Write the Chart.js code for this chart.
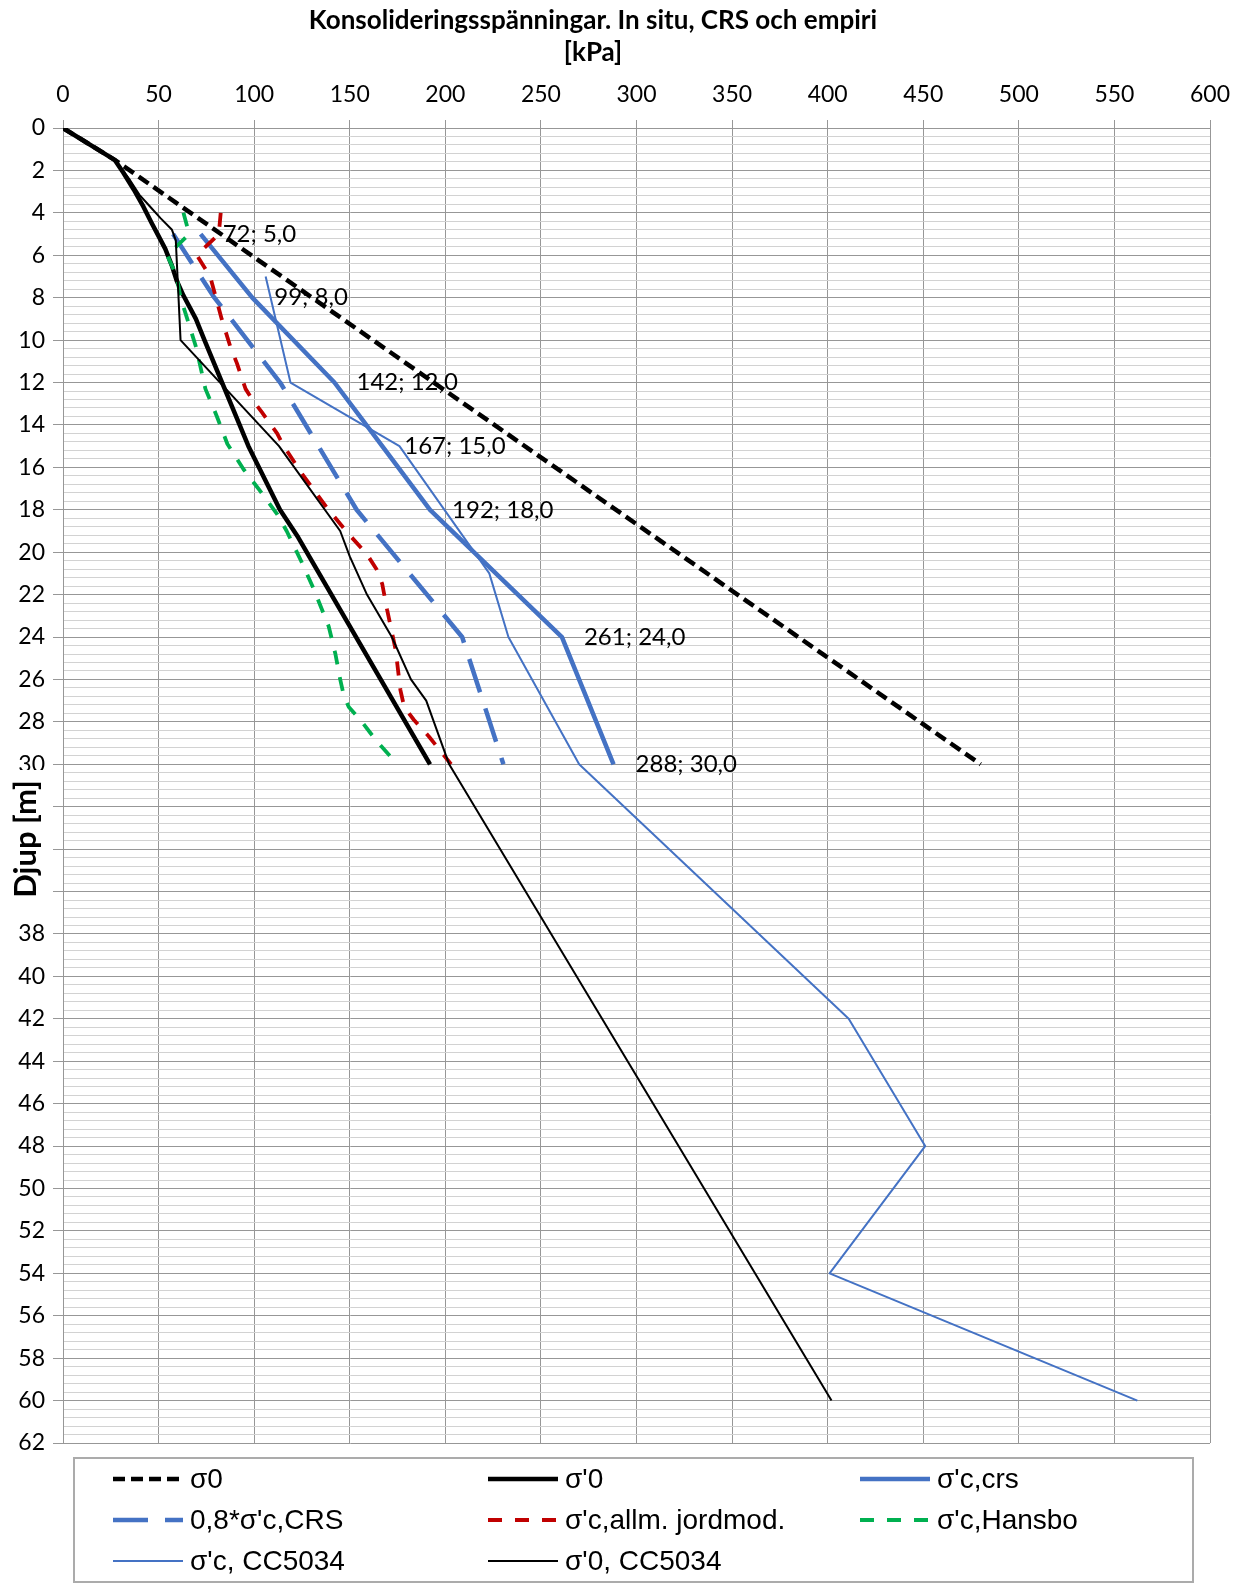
<!DOCTYPE html>
<html>
<head>
<meta charset="utf-8">
<script src="https://cdn.jsdelivr.net/npm/chart.js@4.4.1/dist/chart.umd.min.js"></script>
<style>
  html, body { margin: 0; padding: 0; background: #ffffff; }
  #wrap { width: 1246px; height: 1585px; position: relative; }
</style>
</head>
<body>
<div id="wrap"><canvas id="chart" width="1246" height="1585"></canvas></div>
<script>
// Titles and names
const titleLines = ['Konsolideringsspänningar. In situ, CRS och empiri', '[kPa]'];
const depthTitle = 'Djup [m]';
const seriesNames = ['σ0', "σ'0", "σ'c,crs", "0,8*σ'c,CRS", "σ'c,allm. jordmod.", "σ'c,Hansbo", "σ'c, CC5034", "σ'0, CC5034"];

// Total vertical stress
const sigma0Depth = [0, 1.5, 30];
const sigma0Kpa   = [0, 27, 480];

// Effective vertical stress
const sigmaEffDepth = [0, 1.5, 2.1, 2.9, 3.7, 4.5, 5.1, 5.7, 6.5, 7.2, 7.9, 9, 10, 15, 18, 19.3, 30];
const sigmaEffKpa   = [0, 27, 31.5, 37, 42, 46.5, 50, 53.5, 57, 59.5, 63, 69.5, 74, 97, 113.5, 123, 192];

// Preconsolidation pressure from CRS tests
const crsDepth = [5, 8, 12, 15, 18, 24, 30];
const crsKpa   = [72, 99, 142, 167, 192, 261, 288];

// 0,8 x CRS values
const crs08Depth = [5, 8, 12, 15, 18, 24, 30];
const crs08Kpa   = [57.6, 79.2, 113.6, 133.6, 153.6, 208.8, 230.4];

// Empirical, general soil model
const allmDepth = [4, 5, 6, 7, 9, 10.3, 11.1, 12.3, 12.8, 13.4, 14.4, 15, 16.3, 17.9, 19.1, 20.1, 20.8, 21.5, 22.7, 24.6, 26.5, 27.3, 27.9, 28.7, 30];
const allmKpa   = [82.5, 81.5, 70, 77, 83, 87.5, 91, 95.5, 99, 104, 112, 115.5, 125, 138, 149, 159, 164, 167, 169.5, 174, 176.5, 178.5, 183.5, 191.5, 203];

// Empirical, Hansbo
const hansboDepth = [4, 5, 6, 7, 8, 9, 10.3, 12.3, 13.6, 14.9, 16.1, 17.1, 18.2, 19, 20.5, 21.7, 23.5, 24.8, 26, 26.8, 27.3, 27.9, 28.9, 30];
const hansboKpa   = [63, 66, 54.5, 59.5, 61.5, 65, 69.5, 74.5, 80.5, 86, 94.5, 103, 112, 117, 125, 131, 139, 142.5, 145, 147, 149.5, 155.5, 164, 175];

// Borehole CC5034, preconsolidation pressure
const cc5034cDepth = [7, 12, 15, 21, 24, 30, 42, 48, 54, 60];
const cc5034cKpa   = [106, 119, 176, 223, 233, 270, 411, 451, 401, 562];

// Borehole CC5034, effective vertical stress
const cc5034eDepth = [0, 1.5, 2.45, 3.15, 3.7, 4.25, 4.8, 5.3, 10, 15, 19, 20.2, 22, 24, 26, 27, 30, 60];
const cc5034eKpa   = [0, 27, 35, 40, 45.5, 51, 57, 59, 61.5, 113, 145, 150, 159, 172, 182, 190, 202, 402];

// Axis ticks
const kpaMin = 0, kpaMax = 600, kpaStep = 50;
const depthMin = 0, depthMax = 62, depthStep = 2, depthMinorStep = 0.4;

const BLUE = '#4472C4', RED = '#C00000', GREEN = '#00B050', BLACK = '#000000';
const GRID_MAJOR = '#979797', GRID_MINOR = '#D2D2D2';

function pts(kpa, depth) { return kpa.map((v, i) => ({ x: v, y: depth[i] })); }

const styles = [
  { color: BLACK, width: 4.5, dash: [12, 6] },
  { color: BLACK, width: 4.5, dash: [] },
  { color: BLUE,  width: 4.5, dash: [] },
  { color: BLUE,  width: 4.5, dash: [35, 17] },
  { color: RED,   width: 3.8, dash: [14, 13] },
  { color: GREEN, width: 3.8, dash: [14, 13] },
  { color: BLUE,  width: 2,   dash: [] },
  { color: BLACK, width: 2,   dash: [] }
];
const seriesData = [
  pts(sigma0Kpa, sigma0Depth),
  pts(sigmaEffKpa, sigmaEffDepth),
  pts(crsKpa, crsDepth),
  pts(crs08Kpa, crs08Depth),
  pts(allmKpa, allmDepth),
  pts(hansboKpa, hansboDepth),
  pts(cc5034cKpa, cc5034cDepth),
  pts(cc5034eKpa, cc5034eDepth)
];

const datasets = seriesNames.map((name, i) => ({
  label: name,
  data: seriesData[i],
  showLine: true,
  borderColor: styles[i].color,
  backgroundColor: styles[i].color,
  borderWidth: styles[i].width,
  borderDash: styles[i].dash,
  borderJoinStyle: 'round',
  pointRadius: 0,
  pointHoverRadius: 0,
  fill: false,
  tension: 0,
  order: seriesNames.length - i
}));

const isMajor = v => Math.abs(v / depthStep - Math.round(v / depthStep)) < 1e-6;

// Two-line title above the value axis
const titlePlugin = {
  id: 'chartTitle',
  afterDraw(chart) {
    const ctx = chart.ctx;
    ctx.save();
    ctx.fillStyle = '#000';
    ctx.font = 'bold 26px Lato';
    ctx.textAlign = 'center';
    ctx.textBaseline = 'alphabetic';
    ctx.fillText(titleLines[0], 593, 29);
    ctx.fillText(titleLines[1], 593, 61);
    ctx.restore();
  }
};

// Rotated depth axis title on a white box
const depthTitlePlugin = {
  id: 'depthTitle',
  afterDraw(chart) {
    const ctx = chart.ctx;
    ctx.save();
    ctx.fillStyle = '#fff';
    ctx.fillRect(0, 770, 50, 138);
    ctx.translate(26, 839);
    ctx.rotate(-Math.PI / 2);
    ctx.fillStyle = '#000';
    ctx.font = 'bold 31px Lato';
    ctx.textAlign = 'center';
    ctx.textBaseline = 'middle';
    ctx.fillText(depthTitle, 0, 0);
    ctx.restore();
  }
};

// Value labels on the CRS series
const crsLabelPlugin = {
  id: 'crsLabels',
  afterDatasetsDraw(chart) {
    const meta = chart.getDatasetMeta(2);
    const ctx = chart.ctx;
    ctx.save();
    ctx.fillStyle = '#000';
    ctx.font = '24px Lato';
    ctx.textAlign = 'left';
    ctx.textBaseline = 'middle';
    meta.data.forEach((el, j) => {
      const txt = crsKpa[j] + '; ' + crsDepth[j].toFixed(1).replace('.', ',');
      ctx.fillText(txt, el.x + 22, el.y);
    });
    ctx.restore();
  }
};

// Boxed legend in three columns
const legendPlugin = {
  id: 'boxLegend',
  afterDraw(chart) {
    const ctx = chart.ctx;
    const colX = [113, 488, 860];
    const rowY = [1479, 1520, 1561];
    ctx.save();
    ctx.strokeStyle = '#ABABAB';
    ctx.lineWidth = 2;
    ctx.setLineDash([]);
    ctx.strokeRect(74, 1458, 1119, 124);
    ctx.font = '28px "Liberation Sans", Arial, sans-serif';
    ctx.textAlign = 'left';
    ctx.textBaseline = 'middle';
    chart.data.datasets.forEach((ds, i) => {
      const x = colX[i % 3], y = rowY[Math.floor(i / 3)];
      ctx.beginPath();
      ctx.strokeStyle = ds.borderColor;
      ctx.lineWidth = ds.borderWidth;
      ctx.setLineDash(ds.borderDash);
      ctx.moveTo(x, y);
      ctx.lineTo(x + 70, y);
      ctx.stroke();
      ctx.setLineDash([]);
      ctx.fillStyle = '#000';
      ctx.fillText(ds.label, x + 77, y + 1);
    });
    ctx.restore();
  }
};

new Chart(document.getElementById('chart'), {
  type: 'scatter',
  data: { datasets },
  options: {
    responsive: false,
    animation: false,
    devicePixelRatio: 1,
    layout: { padding: { top: 60, left: 0, right: 36, bottom: 142 } },
    plugins: { legend: { display: false }, title: { display: false }, tooltip: { enabled: false } },
    scales: {
      x: {
        type: 'linear', position: 'top',
        min: kpaMin, max: kpaMax,
        ticks: { stepSize: kpaStep, color: '#000', font: { family: 'Lato', size: 23 }, padding: 12, maxRotation: 0, autoSkip: false },
        grid: { color: GRID_MAJOR, lineWidth: 1, tickLength: 8, tickColor: GRID_MAJOR },
        border: { color: GRID_MAJOR, width: 1 },
        afterFit: s => { s.height = 68; }
      },
      y: {
        type: 'linear', reverse: true,
        min: depthMin, max: depthMax,
        ticks: {
          stepSize: depthMinorStep, autoSkip: false, color: '#000',
          font: { family: 'Lato', size: 23 }, padding: 8,
          callback: v => isMajor(v) ? String(Math.round(v)) : ''
        },
        grid: {
          lineWidth: 1, tickLength: 10,
          color: c => (c.tick && isMajor(c.tick.value)) ? GRID_MAJOR : GRID_MINOR,
          tickColor: c => (c.tick && isMajor(c.tick.value)) ? GRID_MAJOR : 'rgba(0,0,0,0)'
        },
        border: { color: GRID_MAJOR, width: 1 },
        afterFit: s => { s.width = 63; }
      }
    }
  },
  plugins: [crsLabelPlugin, titlePlugin, depthTitlePlugin, legendPlugin]
});
</script>
</body>
</html>
